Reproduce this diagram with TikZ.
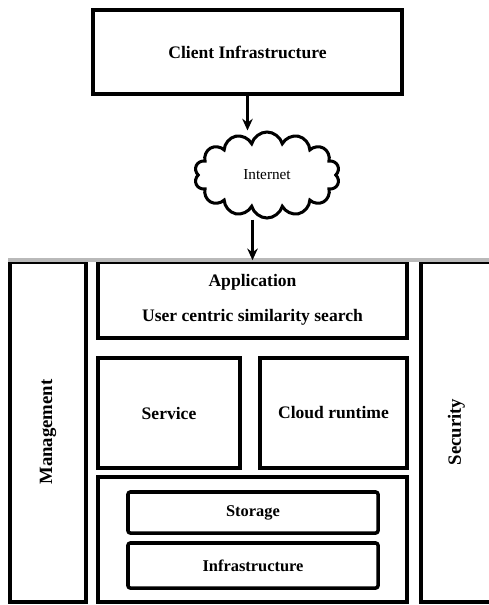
\documentclass[tikz,border=0pt]{standalone}
\usepackage{fontspec}
\setmainfont{Liberation Serif}
\usepackage{tikz}
\usetikzlibrary{positioning, arrows.meta, shapes, shapes.symbols, calc}

\begin{document}
\begin{tikzpicture}[x=0.03cm, y=-0.03cm, auto]
        \tikzstyle{layer} = [rectangle, draw, line width=3pt, text centered, inner sep=2pt, font=\fontsize{15}{18}\selectfont\bfseries]
        \tikzstyle{inner} = [rectangle, draw, line width=3pt, rounded corners=2pt, minimum width=7.5cm, font=\fontsize{14}{17}\selectfont\bfseries]
        \tikzstyle{side} = [rectangle, draw, line width=3pt, minimum height=10.2cm, font=\fontsize{15}{18}\selectfont\bfseries]
        \tikzstyle{arrow} = [line width=2.2pt, -{Stealth[length=10pt, width=9pt]}]

        \useasboundingbox (0,0) rectangle (489,605);

        \node [layer, minimum width=9.27cm, minimum height=2.52cm] (client) at (247.5,52) {Client Infrastructure};
        \node [cloud, draw, line width=2.6pt, cloud puffs=14, aspect=1.7, minimum width=4.35cm, minimum height=2.58cm, font=\fontsize{13}{15}\selectfont] (net) at (267,175) {Internet};

        \node [side, minimum width=2.28cm] (mgmt) at (48,432) {};
        \node [rotate=90, font=\fontsize{16}{18}\selectfont\bfseries] (mgmtlabel) at (mgmt.center) {Management};
        \node [side, minimum width=2.13cm] (sec) at (456.5,432) {};
        \node [rotate=90, font=\fontsize{16}{18}\selectfont\bfseries] (seclabel) at (sec.center) {Security};

        \node [layer, align=center, minimum width=9.27cm, minimum height=2.28cm] (app) at (252.5,300) {Application\\[12pt]User centric similarity search};
        \node [layer, minimum width=4.26cm, minimum height=3.3cm] (svc) at (169,413) {Service};
        \node [layer, minimum width=4.41cm, minimum height=3.3cm] (rt) at (333.5,413) {Cloud runtime};
        \node [layer, minimum width=9.27cm, minimum height=3.75cm] (base) at (252.5,539.5) {};
        \node [inner, minimum height=1.23cm] (store) at (253,512.5) {Storage};
        \node [inner, minimum height=1.35cm] (infra) at (253,565.5) {Infrastructure};

        % gray top edge over the three columns
        \draw [gray!55, line width=3.5pt] (mgmt.north west) -- (sec.north east);

        \draw [arrow] (client.south) -- (client.south |- net.north);
        \draw [arrow] (app.north |- net.south) -- (app.north);
    \end{tikzpicture}
\end{document}
